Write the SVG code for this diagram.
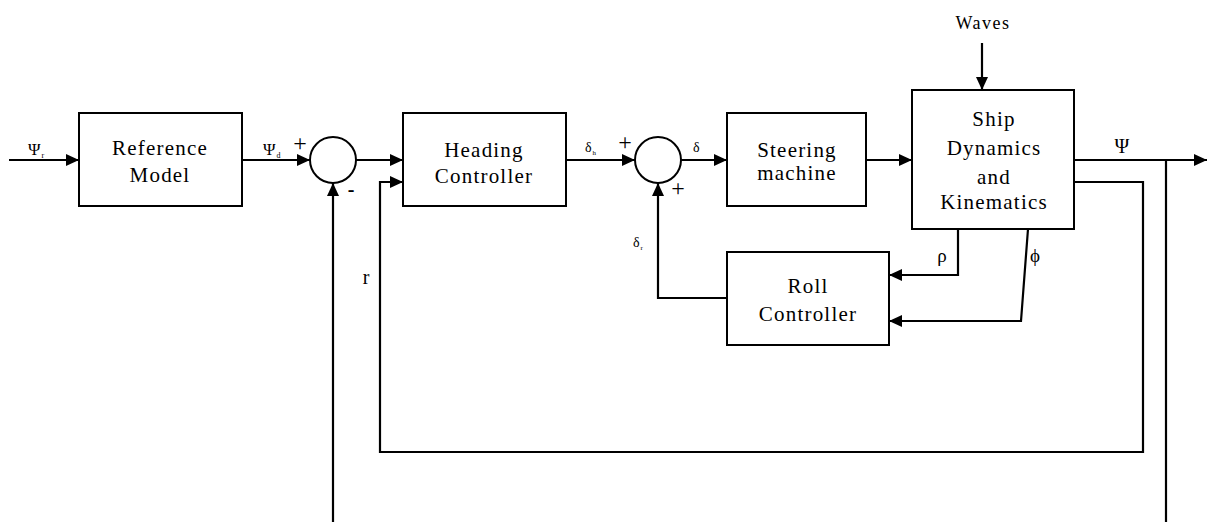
<svg xmlns="http://www.w3.org/2000/svg" width="1208" height="522" viewBox="0 0 1208 522">
<defs>
<marker id="arr" markerUnits="userSpaceOnUse" markerWidth="14" markerHeight="12" refX="13" refY="6" orient="auto">
<path d="M0,0 L13,6 L0,12 z" fill="#000"/>
</marker>
<style>
.box{fill:#fff;stroke:#000;stroke-width:2}
.t{font-family:Liberation Serif,Times New Roman,serif;font-size:21px;letter-spacing:1.2px;text-anchor:middle;fill:#000}
.s{font-family:Liberation Serif,Times New Roman,serif;fill:#000}
.c{fill:none;stroke:#000;stroke-width:2.2}
.ca{fill:none;stroke:#000;stroke-width:2.2;marker-end:url(#arr)}
</style>
</defs>
<rect width="1208" height="522" fill="#fff"/>
<g id="connectors">
<path class="ca" d="M9,160 H79"/>
<path class="ca" d="M242,160 H310"/>
<path class="ca" d="M356,160 H403"/>
<path class="ca" d="M566,160 H635"/>
<path class="ca" d="M681,160 H727"/>
<path class="ca" d="M866,160 H912"/>
<path class="ca" d="M1074,160 H1207"/>
<path class="ca" d="M982,43 V90"/>
<path class="c" d="M1166,160 V522"/>
<path class="ca" d="M333,522 V183"/>
<path class="ca" d="M1074,182 H1143 V452 H380 V182 H403"/>
<path class="ca" d="M958,229 V275 H889"/>
<path class="ca" d="M1028,229 L1021,321 H889"/>
<path class="ca" d="M727,298 H658 V183"/>
</g>
<g id="ref-model">
<rect class="box" x="79" y="113" width="163" height="93"/>
<text class="t" x="160" y="155">Reference</text>
<text class="t" x="160" y="182">Model</text>
</g>
<g id="sum1">
<circle class="box" cx="333" cy="160" r="23"/>
<text class="s" x="300" y="151" font-size="24" text-anchor="middle">+</text>
<text class="s" x="351" y="196" font-size="20" font-weight="bold" text-anchor="middle">-</text>
</g>
<g id="heading-controller">
<rect class="box" x="403" y="113" width="163" height="93"/>
<text class="t" x="484" y="157">Heading</text>
<text class="t" x="484" y="183">Controller</text>
</g>
<g id="sum2">
<circle class="box" cx="658" cy="160" r="23"/>
<text class="s" x="625" y="150" font-size="24" text-anchor="middle">+</text>
<text class="s" x="678" y="196" font-size="24" text-anchor="middle">+</text>
</g>
<g id="steering-machine">
<rect class="box" x="727" y="113" width="139" height="93"/>
<text class="t" x="797" y="157">Steering</text>
<text class="t" x="797" y="180">machine</text>
</g>
<g id="ship">
<rect class="box" x="912" y="90" width="162" height="139"/>
<text class="t" x="994" y="126">Ship</text>
<text class="t" x="994" y="155">Dynamics</text>
<text class="t" x="994" y="184">and</text>
<text class="t" x="994" y="209">Kinematics</text>
</g>
<g id="roll-controller">
<rect class="box" x="727" y="252" width="162" height="93"/>
<text class="t" x="808" y="293">Roll</text>
<text class="t" x="808" y="321">Controller</text>
</g>
<g id="labels">
<text class="s" x="28" y="155" font-size="17">Ψ<tspan font-size="8" dy="3" dx="1">r</tspan></text>
<text class="s" x="263" y="155" font-size="17">Ψ<tspan font-size="8" dy="3" dx="1">d</tspan></text>
<text class="s" x="585" y="152" font-size="14">δ<tspan font-size="7" dy="3" dx="1">h</tspan></text>
<text class="s" x="693" y="152" font-size="14">δ</text>
<text class="s" x="633" y="247" font-size="14">δ<tspan font-size="7" dy="3" dx="1">r</tspan></text>
<text class="s" x="1122" y="153" font-size="20" text-anchor="middle">Ψ</text>
<text class="s" x="983" y="29" font-size="18" letter-spacing="1.5" text-anchor="middle">Waves</text>
<text class="s" x="942" y="262" font-size="19" text-anchor="middle">ρ</text>
<text class="s" x="1035" y="262" font-size="19" text-anchor="middle">ϕ</text>
<text class="s" x="366" y="284" font-size="20" text-anchor="middle">r</text>
</g>
</svg>
